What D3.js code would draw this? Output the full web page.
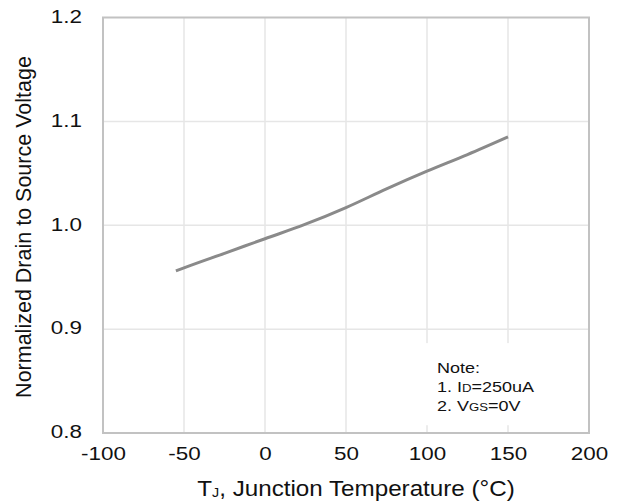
<!DOCTYPE html>
<html>
<head>
<meta charset="utf-8">
<script src="https://cdn.jsdelivr.net/npm/d3@7"></script>
<style>
  html, body { margin: 0; padding: 0; background: #fff; }
  svg { display: block; }
  text { font-family: "Liberation Sans", Arial, sans-serif; fill: #111; }
</style>
</head>
<body>
<svg id="chart" width="624" height="504"></svg>
<script>
// Junction temperature (°C) and normalized BVDSS readings
const temperature = [-55, -50, -25, 0, 25, 50, 75, 100, 125, 150];
const normalizedBV = [0.956, 0.959, 0.973, 0.987, 1.001, 1.017, 1.035, 1.052, 1.068, 1.085];

const xTicks = [-100, -50, 0, 50, 100, 150, 200];
const yTicks = [0.8, 0.9, 1.0, 1.1, 1.2];
const noteLines = [
  [{ t: "Note:" }],
  [{ t: "1. I" }, { t: "D", small: true }, { t: "=250uA" }],
  [{ t: "2. V" }, { t: "GS", small: true }, { t: "=0V" }]
];

const svg = d3.select("#chart");
const plot = { left: 103, right: 589, top: 17.5, bottom: 433 };

const x = d3.scaleLinear().domain([-100, 200]).range([plot.left, plot.right]);
const y = d3.scaleLinear().domain([0.8, 1.2]).range([plot.bottom, plot.top]);

// grid
const grid = svg.append("g").attr("class", "grid")
  .attr("stroke", "#e6e6e6").attr("stroke-width", 1.5);
grid.selectAll("line.gx").data(xTicks.slice(1, -1)).join("line")
  .attr("class", "gx")
  .attr("x1", d => x(d)).attr("x2", d => x(d))
  .attr("y1", plot.top).attr("y2", plot.bottom);
grid.selectAll("line.gy").data(yTicks.slice(1, -1)).join("line")
  .attr("class", "gy")
  .attr("x1", plot.left).attr("x2", plot.right)
  .attr("y1", d => y(d)).attr("y2", d => y(d));

// white panel behind the test-condition note
svg.append("rect")
  .attr("x", x(95)).attr("y", y(0.8865))
  .attr("width", x(185) - x(95)).attr("height", y(0.8075) - y(0.8865))
  .attr("fill", "#fff");

// plot frame
svg.append("rect")
  .attr("x", plot.left).attr("y", plot.top)
  .attr("width", plot.right - plot.left).attr("height", plot.bottom - plot.top)
  .attr("fill", "none").attr("stroke", "#c2c2c2").attr("stroke-width", 2);

// curve
const line = d3.line()
  .x((d, i) => x(temperature[i]))
  .y(d => y(d))
  .curve(d3.curveMonotoneX);
svg.append("path")
  .datum(normalizedBV)
  .attr("d", line)
  .attr("fill", "none")
  .attr("stroke", "#8a8a8a")
  .attr("stroke-width", 3)
  .attr("stroke-linejoin", "round");

// axes
const tickFont = 19, tickStretch = 1.18;
const xAxis = svg.append("g")
  .attr("transform", `translate(0,${plot.bottom})`)
  .call(d3.axisBottom(x).tickValues(xTicks).tickSize(0).tickPadding(14)
    .tickFormat(d => String(d)));
xAxis.select(".domain").remove();
xAxis.selectAll("text")
  .attr("font-size", tickFont)
  .attr("fill", "#111")
  .attr("transform", `scale(${tickStretch},1)`);

const yAxis = svg.append("g")
  .attr("transform", `translate(${plot.left},0)`)
  .call(d3.axisLeft(y).tickValues(yTicks).tickSize(0)
    .tickFormat(d => d.toFixed(1)));
yAxis.select(".domain").remove();
yAxis.selectAll("text")
  .attr("font-size", tickFont)
  .attr("fill", "#111")
  .attr("x", -21 / tickStretch)
  .attr("dy", "0.25em")
  .attr("transform", `scale(${tickStretch},1)`);
svg.selectAll(".tick line").remove();

// axis titles
const xTitle = svg.append("text")
  .attr("transform", "translate(356,496) scale(1.1,1)")
  .attr("text-anchor", "middle")
  .attr("font-size", 22);
xTitle.append("tspan").text("T");
xTitle.append("tspan").attr("font-size", 13).attr("dy", 1).text("J");
xTitle.append("tspan").attr("dy", -1).text(", Junction Temperature (°C)");

svg.append("text")
  .attr("transform", "translate(31,227) rotate(-90)")
  .attr("text-anchor", "middle")
  .attr("font-size", 21.5)
  .text("Normalized Drain to Source Voltage");

// note
const note = svg.append("text")
  .attr("transform", "translate(437,373) scale(1.2,1)")
  .attr("font-size", 15);
noteLines.forEach((parts, i) => {
  parts.forEach((p, j) => {
    const ts = note.append("tspan").text(p.t);
    if (j === 0) ts.attr("x", 0).attr("y", i * 19);
    if (p.small) ts.attr("font-size", 11);
  });
});
</script>
</body>
</html>
